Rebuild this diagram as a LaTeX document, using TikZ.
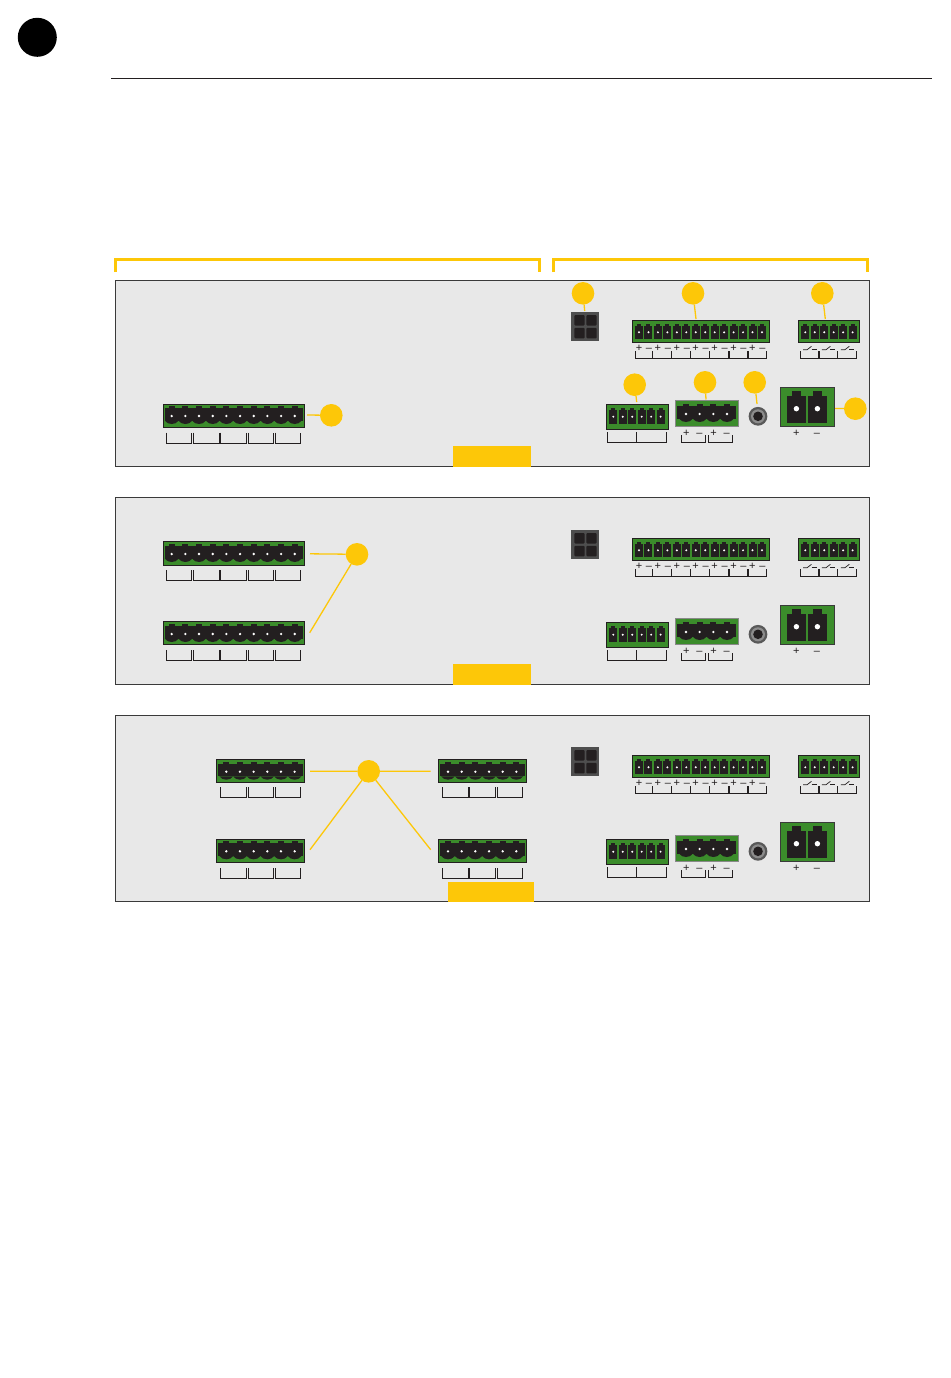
\documentclass[tikz,border=0pt]{standalone}
\usepackage{fontspec}
\setmainfont{Liberation Sans}
\usepackage{tikz}

\definecolor{signyellow}{HTML}{FDC708}
\definecolor{panelgrey}{HTML}{E8E8E8}
\definecolor{paneledge}{HTML}{3A3A3A}
\definecolor{termgreen}{HTML}{3B8C2B}
\definecolor{pinblack}{HTML}{231F20}

% screw terminal: name, style, x0, x1, ytop, ybottom, ypin, first pin, pins
\newcommand{\screwblock}[9]{%
  \node[blockbody,#2,minimum width={(#4)-(#3)},minimum height={(#6)-(#5)},anchor=north west] (#1) at (#3,#5) {};
  \fill[pinblack] (#3+2,#7-8) rectangle (#4-2,#7+4.7);
  \foreach \i in {1,...,#9} {
    \pgfmathsetmacro{\px}{#8+(\i-1)*13.67}
    \fill[pinblack] (\px-3,#7-10) rectangle (\px+3,#7-7);
    \fill[pinblack] (\px-6.83,#7+4.7) .. controls (\px-4,#7+9.1) and (\px+4,#7+9.1) .. (\px+6.83,#7+4.7) -- cycle;
    \fill[white] (\px,#7) circle (1.3pt);
  }
}
% small terminal: name, x0, x1, ytop, ybottom, ypin, first pin, pins
\newcommand{\microblock}[8]{%
  \node[blockbody,minimum width={(#3)-(#2)},minimum height={(#5)-(#4)},anchor=north west] (#1) at (#2,#4) {};
  \foreach \i in {1,...,#8} {
    \pgfmathsetmacro{\px}{#7+(\i-1)*9.46}
    \fill[pinblack] (\px-4,#6-6.6) rectangle (\px+4,#6+7);
    \fill[pinblack] (\px-2,#6-8.6) rectangle (\px+2,#6-6);
    \fill[white] (\px,#6) circle (1.1pt);
  }
}
% comb under a terminal: x list with thick dividers
\newcommand{\pincomb}[5]{%
  \draw[combline] (#1,#3) |- (#2,#4) -- (#2,#3);
  \foreach \d in {#5} {\draw[combline,line width=1.5pt] (\d,#3) -- (\d,#4);}
}

\begin{document}
\begin{tikzpicture}[x=1pt,y=-1pt,
    panelbox/.style={draw=paneledge,fill=panelgrey,line width=1pt,inner sep=0pt,outer sep=0pt,anchor=north west,minimum width=754pt},
    tabbox/.style={fill=signyellow,inner sep=0pt,outer sep=0pt,anchor=north west},
    callout/.style={circle,fill=signyellow,inner sep=0pt,outer sep=0pt,minimum size=22.6pt},
    leader/.style={draw=signyellow,line width=1.3pt},
    brace/.style={draw=signyellow,line width=3pt},
    blockbody/.style={draw=pinblack,fill=termgreen,line width=1pt,inner sep=0pt,outer sep=0pt},
    combline/.style={draw=pinblack,line width=1pt},
    signtext/.style={inner sep=0pt,anchor=base,text=pinblack,font=\fontsize{11}{11}\selectfont}]
    \useasboundingbox (0,0) rectangle (950,1378);

    % Heading
    \node[circle,fill=black,inner sep=0pt,outer sep=0pt,minimum size=39pt] (headdot) at (37.3,37.3) {};
    \draw[pinblack,line width=1pt] (111,78.5) -- (932,78.5);

    % Brackets over the panels
    \draw[brace] (115.5,272) |- (539.5,259.5) -- (539.5,272);
    \draw[brace] (553.5,272) |- (867.5,259.5) -- (867.5,272);

    % Panels
    \node[panelbox,minimum height=185.5pt] (panelA) at (115.5,280.5) {};
    \node[panelbox,minimum height=187pt] (panelB) at (115.5,497.5) {};
    \node[panelbox,minimum height=186pt] (panelC) at (115.5,715.5) {};
    \node[tabbox,minimum width=78.5pt,minimum height=20.5pt] (tabA) at (452.5,446) {};
    \node[tabbox,minimum width=78.5pt,minimum height=20.5pt] (tabB) at (452.5,664) {};
    \node[tabbox,minimum width=86pt,minimum height=20pt] (tabC) at (448,881.5) {};

    % Right side, the same in every panel
    \foreach \dy/\pn in {0/A,218/B,435/C} {
    \begin{scope}[shift={(0,\dy)}]
        % Four-way socket
        \node[fill=paneledge!90,inner sep=0pt,outer sep=0pt,minimum width=28pt,minimum height=28.7pt,anchor=north west] (quad\pn) at (571.3,312) {};
        \foreach \cx/\cy in {574.4/315,586.4/315,574.4/327.8,586.4/327.8} {
            \fill[pinblack,rounded corners=1pt] (\cx,\cy) rectangle (\cx+10.2,\cy+10.6);
        }

        % Fourteen pins
        \microblock{inputs\pn}{632.3}{769.7}{320.3}{342.7}{332.3}{639}{14}
        \pincomb{635.3}{766.7}{351}{358.3}{652.3,671.3,690.7,709.7,729,748}
        \foreach \i in {0,...,6} {
            \node[signtext] (plus\pn\i) at (639+18.9*\i,351.9) {+};
            \node[signtext] (minus\pn\i) at (649+18.9*\i,351.9) {–};
        }

        % Relay contacts
        \microblock{relay\pn}{798.3}{859.7}{320.3}{342.7}{332.3}{805.3}{6}
        \pincomb{800.3}{856.7}{351}{358.3}{819,837.7}
        \foreach \i in {0,1,2} {
            \draw[pinblack,line width=.7pt] (803+18.9*\i,349.8) -- (807+18.9*\i,349.8) -- (811.5+18.9*\i,346.3);
            \draw[pinblack,line width=.7pt] (811.5+18.9*\i,349.3) -- (816.5+18.9*\i,349.3);
        }

        % Lower row
        \microblock{aux\pn}{606}{668}{404}{429}{416.7}{613.3}{6}
        \pincomb{607.3}{666.7}{432.3}{442.3}{636.7}

        \screwblock{power\pn}{draw=paneledge!60}{675.3}{738}{400.3}{426.7}{414}{686}{4}
        \draw[combline] (681.3,435) |- (705.3,442) -- (705.3,435);
        \draw[combline] (708.3,435) |- (732.3,442) -- (732.3,435);
        \node[signtext] (pwrplus\pn a) at (686.3,436.3) {+};
        \node[signtext] (pwrminus\pn a) at (699.3,436.3) {–};
        \node[signtext] (pwrplus\pn b) at (713.7,436.3) {+};
        \node[signtext] (pwrminus\pn b) at (726.7,436.3) {–};

        % Jack
        \fill[black!65] (758,416.3) circle (9.4pt);
        \fill[black!45] (758,416.3) circle (7pt);
        \fill[pinblack] (758,416.3) circle (4.8pt);

        % Two big pins
        \node[blockbody,draw=paneledge,minimum width=54.4pt,minimum height=39.4pt,anchor=north west] (mains\pn) at (780.3,387.3) {};
        \foreach \bx in {787,808} {
            \fill[pinblack] (\bx,396) rectangle (\bx+19,422.7);
            \fill[pinblack] (\bx+5.3,391.3) rectangle (\bx+13.7,397);
            \fill[white] (\bx+9.4,408.7) circle (2.7pt);
        }
        \node[signtext] (mainsplus\pn) at (796.3,436.6) {+};
        \node[signtext] (mainsminus\pn) at (817,436.6) {–};
    \end{scope}
    }

    % Left side, panel A
    \screwblock{wideA}{}{163.4}{304.6}{404.3}{427.5}{416}{171.7}{10}
    \pincomb{166.3}{191.7}{432.7}{443}{}
    \pincomb{193.3}{246.7}{432.7}{443}{220}
    \pincomb{248.3}{273.3}{432.7}{443}{}
    \pincomb{275.3}{300.7}{432.7}{443}{}

    % Left side, panel B
    \screwblock{wideB}{}{163.4}{304.6}{541.3}{565.5}{554}{171.7}{10}
    \pincomb{166.3}{191.7}{570}{580.3}{}
    \pincomb{193.3}{246.7}{570}{580.3}{220}
    \pincomb{248.3}{273.3}{570}{580.3}{}
    \pincomb{275.3}{300.7}{570}{580.3}{}
    \screwblock{wideC}{}{163.4}{304.6}{621.3}{644.5}{634}{171.7}{10}
    \pincomb{166.3}{191.7}{650}{660.3}{}
    \pincomb{193.3}{246.7}{650}{660.3}{220}
    \pincomb{248.3}{273.3}{650}{660.3}{}
    \pincomb{275.3}{300.7}{650}{660.3}{}

    % Left side, panel C
    \foreach \ytop/\ybot/\ypin/\ycomb/\pn in {759.5/782.5/771.7/787.3/a,839.5/862.5/851.3/868/b} {
        \screwblock{sixL\pn}{}{216.4}{304.6}{\ytop}{\ybot}{\ypin}{226.3}{6}
        \pincomb{220.3}{246.7}{\ycomb}{\ycomb+10}{}
        \pincomb{248.3}{273.3}{\ycomb}{\ycomb+10}{}
        \pincomb{275.3}{300.7}{\ycomb}{\ycomb+10}{}
        \screwblock{sixR\pn}{}{438.4}{526.6}{\ytop}{\ybot}{\ypin}{448}{6}
        \pincomb{442.3}{495.7}{\ycomb}{\ycomb+10}{469}
        \pincomb{497.3}{522.3}{\ycomb}{\ycomb+10}{}
    }

    % Callouts
    \coordinate (endwide) at (307,415);
    \coordinate (endquad) at (584.7,311);
    \coordinate (endinputs) at (696,319);
    \coordinate (endrelay) at (825.3,319);
    \coordinate (endaux) at (636.7,402);
    \coordinate (endpower) at (706,399.5);
    \coordinate (endjack) at (757,404);
    \coordinate (endmains) at (835,408.5);
    \coordinate (endB) at (310,553.8);
    \coordinate (endBlow) at (309.7,632.7);
    \coordinate (endCa) at (310,771.2);
    \coordinate (endCb) at (430.7,771.2);
    \coordinate (endCc) at (310,849.7);
    \coordinate (endCd) at (430.7,849.7);

    \node[callout] (callwide) at (331.3,415.3) {};
    \node[callout] (callquad) at (583,293.3) {};
    \node[callout] (callinputs) at (693,293.3) {};
    \node[callout] (callrelay) at (822.3,293.3) {};
    \node[callout] (callaux) at (634.7,384.7) {};
    \node[callout] (callpower) at (705,382.3) {};
    \node[callout] (calljack) at (754.7,382.3) {};
    \node[callout] (callmains) at (855.3,408.7) {};
    \node[callout] (callB) at (357,554.3) {};
    \node[callout] (callC) at (368.7,771.3) {};

    \draw[leader] (callwide) -- (endwide);
    \draw[leader] (callquad) -- (endquad);
    \draw[leader] (callinputs) -- (endinputs);
    \draw[leader] (callrelay) -- (endrelay);
    \draw[leader] (callaux) -- (endaux);
    \draw[leader] (callpower) -- (endpower);
    \draw[leader] (calljack) -- (endjack);
    \draw[leader] (callmains) -- (endmains);
    \draw[leader] (callB) -- (endB);
    \draw[leader] (callB) -- (endBlow);
    \draw[leader] (callC) -- (endCa);
    \draw[leader] (callC) -- (endCb);
    \draw[leader] (callC) -- (endCc);
    \draw[leader] (callC) -- (endCd);
\end{tikzpicture}
\end{document}
